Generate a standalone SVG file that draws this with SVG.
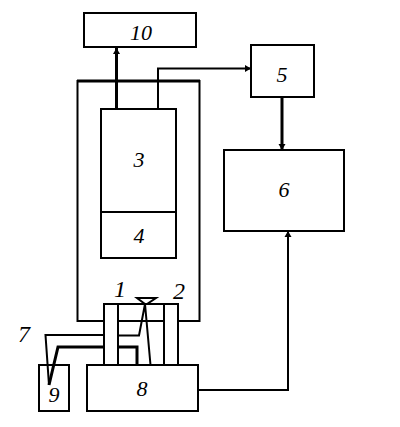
<svg xmlns="http://www.w3.org/2000/svg" width="400" height="427" viewBox="0 0 400 427">
<style>
.b{fill:none;stroke:#000;stroke-width:2}
.t{font-family:"Liberation Serif","Times New Roman",serif;font-style:italic;font-size:22px;fill:#000;text-anchor:middle}
.l{fill:none;stroke:#000;stroke-width:2}
.h{fill:none;stroke:#000;stroke-width:3}
</style>
<defs>
<marker id="a" markerUnits="userSpaceOnUse" markerWidth="8" markerHeight="8" refX="7" refY="4" orient="auto"><path d="M1 0.500L7 4L1 7.500Z" fill="#000"/></marker>
</defs>
<rect width="400" height="427" fill="#fff"/>
<g id="connectors">
<path class="h" d="M116.500 109V48" marker-end="url(#a)"/>
<path class="l" d="M158 110V68.500H251" marker-end="url(#a)"/>
<path class="h" d="M282 97V150" marker-end="url(#a)"/>
<path class="l" d="M198 390H288V231" marker-end="url(#a)"/>
<path class="l" d="M104 335H45.500L49 385"/>
<path class="h" d="M104 347H58L49 385"/>
<path class="h" d="M118 347H137V365"/>
<path class="l" d="M118 335.500H139L145 304L150.500 365"/>
<path class="l" d="M118 321H164"/>
</g>
<g id="n10"><rect class="b" x="84" y="13" width="112" height="34"/><text class="t" x="141" y="40">10</text></g>
<g id="n5"><rect class="b" x="251" y="45" width="63" height="52"/><text class="t" x="282" y="82">5</text></g>
<g id="n6"><rect class="b" x="224" y="150" width="120" height="81"/><text class="t" x="284" y="197">6</text></g>
<g id="housing"><path class="b" d="M104 321H77.500V81H199.500V321H178"/><path class="h" d="M77 81H200"/></g>
<g id="n3"><rect class="b" x="101" y="109" width="75" height="103"/><text class="t" x="139" y="167">3</text></g>
<g id="n4"><rect class="b" x="101" y="212" width="75" height="46"/><text class="t" x="139" y="243">4</text></g>
<g id="n1"><path class="b" d="M104 365V304H118V365"/><text class="t" x="120" y="297" style="font-size:24px">1</text></g>
<g id="n2"><path class="b" d="M164 365V304H178V365"/><path class="l" d="M104 304H178"/><text class="t" x="179" y="299" style="font-size:24px">2</text></g>
<g id="nozzle"><path class="l" d="M137 298H156L147 304H145Z"/></g>
<g id="n7"><text class="t" x="24" y="342" style="font-size:24px">7</text></g>
<g id="n9"><rect class="b" x="39" y="365" width="30" height="46"/><text class="t" x="54" y="402">9</text></g>
<g id="n8"><rect class="b" x="87" y="365" width="111" height="46"/><text class="t" x="142" y="396">8</text></g>
</svg>
